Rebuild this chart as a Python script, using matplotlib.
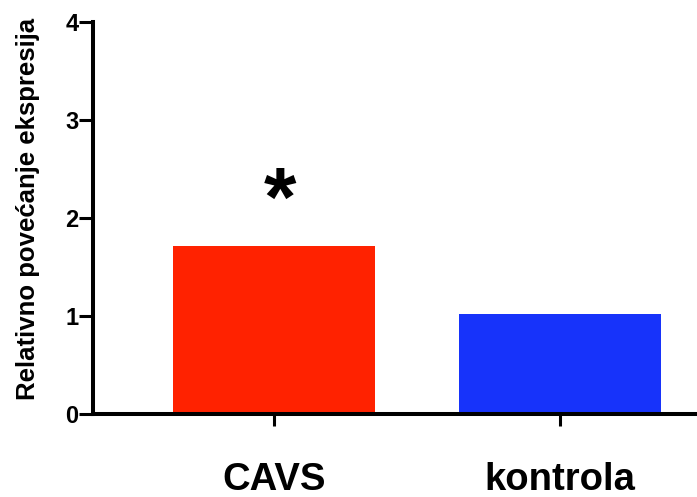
import matplotlib
matplotlib.use('Agg')
import matplotlib.pyplot as plt

# dados
grupos = ['CAVS', 'kontrola']
valores = [1.71, 1.02]
cores = ['#ff2200', '#1733fa']
yticks = [0, 1, 2, 3, 4]

plt.rcParams['font.family'] = ['Liberation Sans', 'DejaVu Sans']
plt.rcParams['font.weight'] = 'bold'

fig = plt.figure(figsize=(6.97, 4.97), dpi=100)
ax = fig.add_axes([0.1334, 0.167, 0.8666, 0.7887])

x = range(len(grupos))
ax.bar(x, valores, width=0.706, color=cores, zorder=2)

# asterisco de significância sobre CAVS
ax.text(0.02, valores[0] + 0.43, '*', ha='center', va='center',
        fontsize=60, fontweight='bold')

ax.set_xlim(-0.633, 1.479)
ax.set_ylim(0, 4)
ax.set_yticks(yticks)
ax.set_xticks(list(x))
ax.set_xticklabels(grupos, fontsize=27.5, fontweight='bold')
ax.set_yticklabels([str(t) for t in yticks], fontsize=17, fontweight='bold')
ax.set_ylabel('Relativno povećanje ekspresija', fontsize=18.5,
              fontweight='bold')
ax.yaxis.set_label_coords(-0.088, 0.523)

for s in ['top', 'right']:
    ax.spines[s].set_visible(False)
for s in ['left', 'bottom']:
    ax.spines[s].set_linewidth(2.9)
ax.tick_params(axis='y', length=10, width=2.2, pad=0.5)
ax.tick_params(axis='x', length=8.5, width=2.2, pad=26)

fig.savefig('out.png', dpi=100)
